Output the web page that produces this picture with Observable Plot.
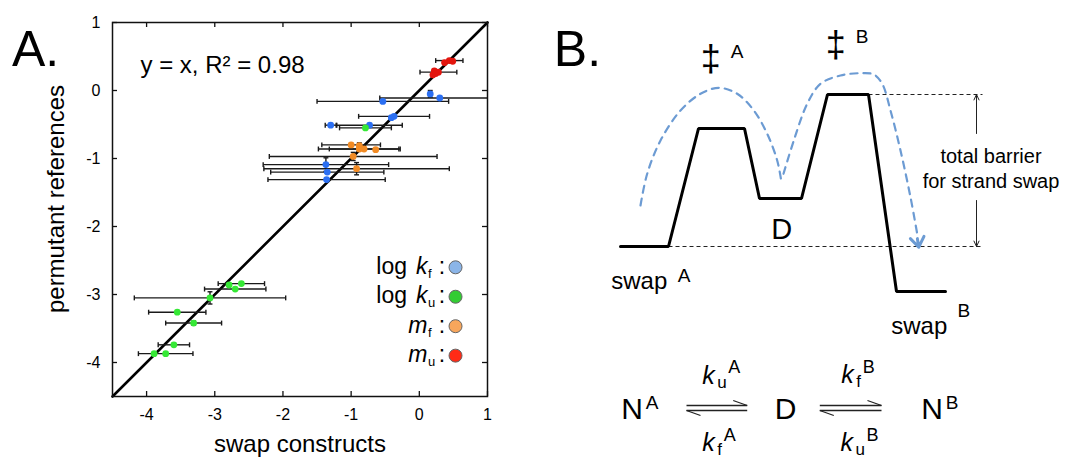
<!DOCTYPE html>
<html><head><meta charset="utf-8">
<script src="https://cdn.jsdelivr.net/npm/d3@7"></script>
<script src="https://cdn.jsdelivr.net/npm/@observablehq/plot@0.6"></script>
<style>
html,body{margin:0;padding:0;background:#fff;}
#wrap{display:flex;width:1069px;height:460px;overflow:hidden;}
#wrap svg{display:block;}
</style></head><body><div id="wrap"></div>
<script>
const FONT = '"Liberation Sans", Arial, Helvetica, sans-serif';

// ---------- Panel A data ----------
const xTicks = [-4, -3, -2, -1, 0, 1];
const yTicks = [-4, -3, -2, -1, 0, 1];
const diagonal = [-4.5, 1];
// [swap construct, permutant reference, x error, y error]
const logKf = [
  [0.16, -0.05, 0, 0.05], [0.30, -0.11, 0.88, 0], [-0.535, -0.16, 0.965, 0],
  [-0.41, -0.40, 0, 0], [-0.37, -0.38, 0.52, 0], [-1.30, -0.51, 0.08, 0],
  [-0.73, -0.51, 0.48, 0], [-1.37, -1.09, 0.92, 0.1], [-1.35, -1.20, 0.83, 0],
  [-1.36, -1.31, 0.86, 0]
];
const logKu = [
  [-0.79, -0.55, 0.38, 0], [-2.61, -2.84, 0.34, 0], [-2.79, -2.86, 0, 0],
  [-2.70, -2.92, 0.45, 0], [-3.07, -3.05, 1.11, 0.09], [-3.55, -3.26, 0.42, 0],
  [-3.31, -3.42, 0.41, 0.03], [-3.60, -3.74, 0.23, 0], [-3.89, -3.87, 0, 0],
  [-3.72, -3.87, 0.40, 0]
];
const mF = [
  [-1.00, -0.80, 0.43, 0], [-0.88, -0.81, 0, 0.04], [-0.88, -0.86, 0.60, 0],
  [-0.81, -0.86, 0.51, 0], [-0.64, -0.87, 0, 0], [-0.97, -0.97, 1.23, 0.06],
  [-0.92, -1.15, 1.36, 0.09]
];
const mU = [
  [0.44, 0.44, 0.20, 0], [0.37, 0.41, 0, 0], [0.49, 0.43, 0, 0],
  [0.22, 0.29, 0, 0], [0.20, 0.23, 0, 0], [0.28, 0.27, 0.27, 0], [0.24, 0.25, 0, 0]
];
const seriesColors = ["#2b6ff2", "#35e835", "#f28b24", "#e3150e"];
const legendColors = ["#8bb5e8", "#33cc33", "#f7a65c", "#ff2b16"];
const legendPrefix = ["log", "log", "", ""];
const legendSymbol = ["k", "k", "m", "m"];
const legendSub = ["f", "u", "f", "u"];

const series = [logKf, logKu, mF, mU];
const points = series.flatMap((arr, s) => arr.map(([x, y, xe, ye]) => ({x, y, xe, ye, s})));
const xBars = points.filter(d => d.xe > 0);
const yBars = points.filter(d => d.ye > 0);
const xCaps = xBars.flatMap(d => [d.x - d.xe, d.x + d.xe].map(cx => ({cx, y: d.y})));
const yCaps = yBars.flatMap(d => [d.y - d.ye, d.y + d.ye].map(cy => ({cy, x: d.x})));
const CAP = 0.036;
const legendRows = legendSymbol.map((sym, i) => ({i, sym, pre: legendPrefix[i], sub: legendSub[i], color: legendColors[i]}));
const legendX = 0.531, legendY0 = -2.60, legendStep = 0.433;
const ly = d => legendY0 - d.i * legendStep;

const frameH = 374, frameW = 375;
const chartA = Plot.plot({
  width: 520, height: 460,
  marginLeft: 112, marginRight: 33, marginTop: 22, marginBottom: 64,
  x: {domain: [-4.5, 1]},
  y: {domain: [-4.5, 1]},
  color: {type: "identity"},
  style: {fontFamily: FONT, fontSize: "16px", color: "#000", background: "#fff", overflow: "visible"},
  marks: [
    Plot.axisX(xTicks, {tickSize: 0, tickPadding: 12, fontSize: 16, tickFormat: d => String(d), label: null}),
    Plot.axisY(yTicks, {tickSize: 0, tickPadding: 12, fontSize: 16, tickFormat: d => String(d), label: null}),
    Plot.ruleX(xTicks, {x: d => d, insetTop: frameH - 5, stroke: "#111", strokeWidth: 1.3}),
    Plot.ruleX(xTicks, {x: d => d, insetBottom: frameH - 5, stroke: "#111", strokeWidth: 1.3}),
    Plot.ruleY(yTicks, {y: d => d, insetRight: frameW - 5, stroke: "#111", strokeWidth: 1.3}),
    Plot.ruleY(yTicks, {y: d => d, insetLeft: frameW - 5, stroke: "#111", strokeWidth: 1.3}),
    Plot.line(diagonal, {x: d => d, y: d => d, stroke: "#000", strokeWidth: 2.6}),
    Plot.link(xBars, {x1: d => d.x - d.xe, x2: d => d.x + d.xe, y1: "y", y2: "y", stroke: "#1a1a1a", strokeWidth: 1.4, clip: true}),
    Plot.link(xCaps, {x1: "cx", x2: "cx", y1: d => d.y - CAP, y2: d => d.y + CAP, stroke: "#1a1a1a", strokeWidth: 1.4, clip: true}),
    Plot.link(yBars, {x1: "x", x2: "x", y1: d => d.y - d.ye, y2: d => d.y + d.ye, stroke: "#1a1a1a", strokeWidth: 1.4}),
    Plot.link(yCaps, {x1: d => d.x - CAP, x2: d => d.x + CAP, y1: "cy", y2: "cy", stroke: "#1a1a1a", strokeWidth: 1.4}),
    Plot.dot(points, {x: "x", y: "y", r: 3.4, fill: d => seriesColors[d.s], stroke: "none"}),
    Plot.frame({stroke: "#111", strokeWidth: 1.5}),
    Plot.text(["y = x, R² = 0.98"], {frameAnchor: "top-left", dx: 28, dy: 50.3, textAnchor: "start", lineAnchor: "bottom", fontSize: 24}),
    Plot.text(["A."], {frameAnchor: "top-left", dx: -100.5, dy: 43, textAnchor: "start", lineAnchor: "bottom", fontSize: 50}),
    Plot.text(["permutant references"], {frameAnchor: "left", rotate: -90, dx: -56.4, dy: -10.5, lineAnchor: "middle", textAnchor: "middle", fontSize: 24}),
    Plot.text(["swap constructs"], {frameAnchor: "bottom", dy: 55.7, lineAnchor: "bottom", textAnchor: "middle", fontSize: 24}),
    // legend
    Plot.dot(legendRows, {x: () => legendX, y: ly, r: 6.5, fill: "color", stroke: "#666", strokeWidth: 1}),
    Plot.text(legendRows, {x: () => legendX, y: ly, text: () => ":", dx: -13.5, dy: -1, textAnchor: "middle", lineAnchor: "middle", fontSize: 23}),
    Plot.text(legendRows, {x: () => legendX, y: ly, text: "sym", dx: -28, dy: -1, textAnchor: "end", lineAnchor: "middle", fontSize: 23, fontStyle: "italic"}),
    Plot.text(legendRows, {x: () => legendX, y: ly, text: "sub", dx: -27.5, dy: 6.5, textAnchor: "start", lineAnchor: "middle", fontSize: 13}),
    Plot.text(legendRows, {x: () => legendX, y: ly, text: "pre", dx: -48.5, dy: -1, textAnchor: "end", lineAnchor: "middle", fontSize: 23})
  ]
});

// ---------- Panel B data (reaction coordinate, free energy; arbitrary units) ----------
const profileX = [0, 4.8, 7.8, 12.4, 13.9, 18.1, 20.7, 24.8, 27.6, 32.5];
const profileG = [0, 0, 11.8, 11.8, 4.8, 4.8, 15.2, 15.2, -4.5, -4.5];
const arc1X = [2.0, 2.67, 4.0, 6.0, 8.0, 9.83, 11.67, 13.33, 14.67, 15.67, 16.07];
const arc1G = [4.1, 7.27, 10.6, 13.6, 15.27, 15.87, 15.27, 13.6, 11.27, 8.6, 6.6];
const arc2X = [16.3, 17.33, 18.67, 20.0, 22.0, 24.0, 25.33, 26.17, 27.0, 28.0, 29.0, 29.67];
const arc2G = [7.27, 10.6, 14.27, 16.27, 17.1, 17.33, 17.2, 16.27, 13.6, 9.6, 4.93, 1.27];
const arcTip = [29.83, -0.07];
const refLineX1 = [4.8, 24.8], refLineX2 = [36.2, 36.2], refLineG = [0, 15.2];
const barrierX = 35.6, barrierFrom = [11.3, 4.6], barrierTo = [15.2, 0];
const barrierText = ["total barrier", "for strand swap"], barrierTextX = 37.05, barrierTextG = [8.37, 5.83];
const tsSymbolX = [9.03, 21.53], tsSymbolG = [18.68, 20.13];
const tsLabel = ["A", "B"], tsLabelX = [11.67, 24.17], tsLabelG = [19.43, 20.97];
const stateText = ["swap", "swap"], stateX = [-0.93, 27.07], stateG = [-4.23, -8.73];
const stateSup = ["A", "B"], stateSupX = [6.37, 34.33], stateSupG = [-2.9, -6.48];
const intermediate = {label: "D", x: 16.13, g: 1.72};
// kinetic scheme
const speciesBase = ["N", "D", "N"], speciesSup = ["A", "", "B"], speciesX = [0.07, 15.43, 30.07], speciesG = -17.23;
const eqArrowX1 = [6.6, 19.93], eqArrowX2 = [12.67, 26.1], eqUpperG = -15.9, eqLowerG = -16.4;
const rateSub = ["u", "f", "f", "u"], rateSup = ["A", "A", "B", "B"];
const rateX = [8.17, 8.17, 22.07, 22.0], rateG = [-13.73, -20.45, -13.67, -20.45];

const profile = profileX.map((x, i) => ({x, g: profileG[i]}));
const arc1 = arc1X.map((x, i) => ({x, g: arc1G[i]}));
const arc2 = arc2X.map((x, i) => ({x, g: arc2G[i]}));
const refLines = refLineX1.map((x1, i) => ({x1, x2: refLineX2[i], g: refLineG[i]}));
const barrierArrows = barrierFrom.map((g1, i) => ({g1, g2: barrierTo[i]}));
const species = speciesBase.map((b, i) => ({b, sup: speciesSup[i], x: speciesX[i]}));
const eqArrows = eqArrowX1.map((x1, i) => ({x1, x2: eqArrowX2[i]}));
const rates = rateSub.map((sub, i) => ({sub, sup: rateSup[i], x: rateX[i], g: rateG[i]}));
const BARB = 1.4, BARBRISE = 0.5;
const BLUE = "#6c9bd3";
const nA = arc2X.length;

const chartB = Plot.plot({
  width: 549, height: 460, margin: 0,
  x: {domain: [-10, 44.9], axis: null},
  y: {domain: [-21.4, 24.6], axis: null},
  style: {fontFamily: FONT, fontSize: "16px", color: "#000", background: "#fff", overflow: "visible"},
  marks: [
    Plot.link(refLines, {x1: "x1", x2: "x2", y1: "g", y2: "g", stroke: "#222", strokeWidth: 1, strokeDasharray: "4,3"}),
    Plot.arrow(barrierArrows, {x1: () => barrierX, x2: () => barrierX, y1: "g1", y2: "g2", stroke: "#222", strokeWidth: 1, headLength: 9, headAngle: 50}),
    Plot.line(profile, {x: "x", y: "g", stroke: "#000", strokeWidth: 3, strokeLinejoin: "miter"}),
    Plot.line(arc1, {x: "x", y: "g", curve: "catmull-rom", stroke: BLUE, strokeWidth: 2.2, strokeDasharray: "7,6"}),
    Plot.line(arc2, {x: "x", y: "g", curve: "catmull-rom", stroke: BLUE, strokeWidth: 2.2, strokeDasharray: "7,6"}),
    Plot.arrow([arcTip], {x1: () => arc2X[nA - 2], y1: () => arc2G[nA - 2], x2: d => d[0], y2: d => d[1], insetStart: 42, stroke: BLUE, strokeWidth: 3, headLength: 6, headAngle: 70}),
    Plot.text(["B."], {x: () => -6.67, y: () => 18.1, textAnchor: "start", lineAnchor: "bottom", fontSize: 50}),
    Plot.text(tsSymbolX, {x: d => d, y: (d, i) => tsSymbolG[i], text: () => "‡", textAnchor: "middle", lineAnchor: "middle", fontSize: 36}),
    Plot.text(tsLabel, {x: (d, i) => tsLabelX[i], y: (d, i) => tsLabelG[i], text: d => d, textAnchor: "middle", lineAnchor: "middle", fontSize: 19}),
    Plot.text([intermediate], {x: "x", y: "g", text: "label", textAnchor: "middle", lineAnchor: "middle", fontSize: 29}),
    Plot.text(stateText, {x: (d, i) => stateX[i], y: (d, i) => stateG[i], text: d => d, textAnchor: "start", lineAnchor: "bottom", fontSize: 24}),
    Plot.text(stateSup, {x: (d, i) => stateSupX[i], y: (d, i) => stateSupG[i], text: d => d, textAnchor: "middle", lineAnchor: "middle", fontSize: 19}),
    Plot.text(barrierText, {x: () => barrierTextX, y: (d, i) => barrierTextG[i], text: d => d, textAnchor: "middle", lineAnchor: "bottom", fontSize: 20}),
    // kinetic scheme
    Plot.text(species, {x: "x", y: () => speciesG, text: "b", textAnchor: "start", lineAnchor: "bottom", fontSize: 30}),
    Plot.text(species, {x: "x", y: () => speciesG, text: "sup", dx: 24.5, dy: -10, textAnchor: "start", lineAnchor: "bottom", fontSize: 19}),
    Plot.link(eqArrows, {x1: "x1", x2: "x2", y1: () => eqUpperG, y2: () => eqUpperG, stroke: "#222", strokeWidth: 1.3}),
    Plot.link(eqArrows, {x1: "x1", x2: "x2", y1: () => eqLowerG, y2: () => eqLowerG, stroke: "#222", strokeWidth: 1.3}),
    Plot.link(eqArrows, {x1: d => d.x2 - BARB, x2: "x2", y1: () => eqUpperG + BARBRISE, y2: () => eqUpperG, stroke: "#222", strokeWidth: 1.3}),
    Plot.link(eqArrows, {x1: "x1", x2: d => d.x1 + BARB, y1: () => eqLowerG, y2: () => eqLowerG - BARBRISE, stroke: "#222", strokeWidth: 1.3}),
    Plot.text(rates, {x: "x", y: "g", text: () => "k", textAnchor: "start", lineAnchor: "bottom", fontSize: 25, fontStyle: "italic"}),
    Plot.text(rates, {x: "x", y: "g", text: "sub", dx: 15, dy: 4, textAnchor: "start", lineAnchor: "bottom", fontSize: 17}),
    Plot.text(rates, {filter: d => d.sub === "u", x: "x", y: "g", text: "sup", dx: 26, dy: -10.5, textAnchor: "start", lineAnchor: "bottom", fontSize: 18}),
    Plot.text(rates, {filter: d => d.sub === "f", x: "x", y: "g", text: "sup", dx: 21.5, dy: -10.5, textAnchor: "start", lineAnchor: "bottom", fontSize: 18})
  ]
});

const wrap = document.getElementById("wrap");
wrap.append(chartA, chartB);
</script>
</body></html>
